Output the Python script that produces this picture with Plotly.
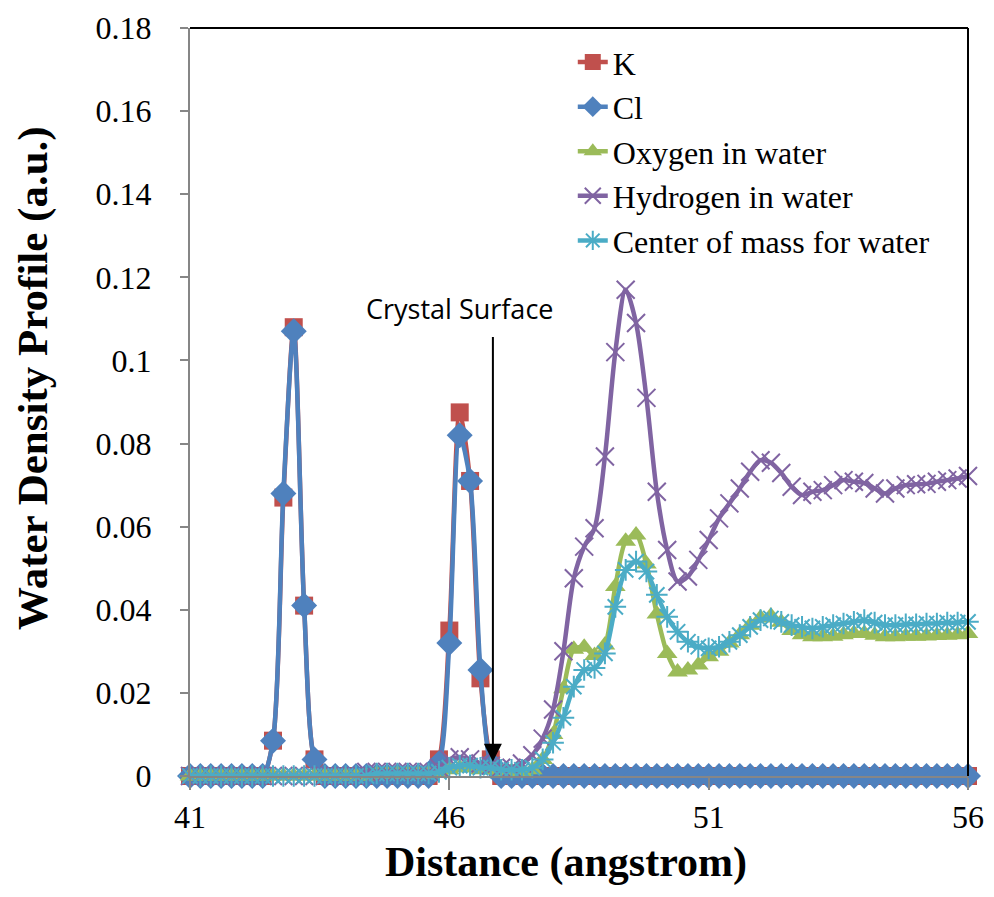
import plotly.graph_objects as go

# Distance grid (angstrom), 0.2 step from 41.0 to 56.0
distance = [41.0, 41.2, 41.4, 41.6, 41.8, 42.0, 42.2, 42.4, 42.6, 42.8,
            43.0, 43.2, 43.4, 43.6, 43.8, 44.0, 44.2, 44.4, 44.6, 44.8,
            45.0, 45.2, 45.4, 45.6, 45.8, 46.0, 46.2, 46.4, 46.6, 46.8,
            47.0, 47.2, 47.4, 47.6, 47.8, 48.0, 48.2, 48.4, 48.6, 48.8,
            49.0, 49.2, 49.4, 49.6, 49.8, 50.0, 50.2, 50.4, 50.6, 50.8,
            51.0, 51.2, 51.4, 51.6, 51.8, 52.0, 52.2, 52.4, 52.6, 52.8,
            53.0, 53.2, 53.4, 53.6, 53.8, 54.0, 54.2, 54.4, 54.6, 54.8,
            55.0, 55.2, 55.4, 55.6, 55.8, 56.0]

k_vals = [0, 0, 0, 0, 0, 0, 0, 0, 0.0085, 0.067,
          0.108, 0.041, 0.004, 0, 0, 0, 0, 0, 0, 0,
          0, 0, 0, 0, 0.004, 0.035, 0.0875, 0.071, 0.0235, 0.004,
          0, 0, 0, 0, 0, 0, 0, 0, 0, 0,
          0, 0, 0, 0, 0, 0, 0, 0, 0, 0,
          0, 0, 0, 0, 0, 0, 0, 0, 0, 0,
          0, 0, 0, 0, 0, 0, 0, 0, 0, 0,
          0, 0, 0, 0, 0, 0]

cl_vals = [0, 0, 0, 0, 0, 0, 0, 0, 0.0085, 0.068,
           0.107, 0.041, 0.004, 0, 0, 0, 0, 0, 0, 0,
           0, 0, 0, 0, 0.003, 0.032, 0.082, 0.071, 0.0255, 0.003,
           0, 0, 0, 0, 0, 0, 0, 0, 0, 0,
           0, 0, 0, 0, 0, 0, 0, 0, 0, 0,
           0, 0, 0, 0, 0, 0, 0, 0, 0, 0,
           0, 0, 0, 0, 0, 0, 0, 0, 0, 0,
           0, 0, 0, 0, 0, 0]

oxygen_vals = [0, 0, 0, 0, 0, 0, 0, 0, 0, 0,
               0, 0, 0, 0, 0, 0, 0, 0, 0.0005, 0.0005,
               0.0005, 0.0005, 0.0005, 0.0005, 0.001, 0.0015, 0.002, 0.002, 0.0015, 0.0015,
               0.001, 0.001, 0.001, 0.0015, 0.004, 0.010, 0.021, 0.0305, 0.031, 0.029,
               0.0315, 0.0456, 0.0565, 0.058, 0.051, 0.039, 0.0295, 0.025, 0.0255, 0.0267,
               0.0287, 0.030, 0.032, 0.034, 0.0363, 0.038, 0.0385, 0.037, 0.035, 0.034,
               0.0335, 0.0335, 0.0336, 0.034, 0.0343, 0.0343, 0.0339, 0.0335, 0.0335, 0.0336,
               0.0336, 0.0337, 0.0338, 0.0339, 0.034, 0.0343]

hydrogen_vals = [0, 0, 0, 0, 0, 0, 0, 0, 0, 0,
                 0, 0, 0, 0, 0, 0, 0, 0.001, 0.001, 0.001,
                 0.001, 0.001, 0.001, 0.001, 0.002, 0.004, 0.0045, 0.004, 0.003, 0.0025,
                 0.002, 0.002, 0.003, 0.005, 0.009, 0.016, 0.030, 0.0476, 0.0552, 0.0596,
                 0.0769, 0.102, 0.117, 0.109, 0.091, 0.0684, 0.0544, 0.0468, 0.048, 0.052,
                 0.0568, 0.062, 0.0656, 0.0692, 0.0732, 0.076, 0.0754, 0.0729, 0.0696, 0.0676,
                 0.0684, 0.0688, 0.070, 0.0712, 0.0708, 0.0705, 0.0692, 0.068, 0.0692, 0.070,
                 0.0702, 0.0703, 0.0708, 0.0712, 0.0716, 0.0722]

com_vals = [0, 0, 0, 0, 0, 0, 0, 0, 0, 0,
            0, 0, 0, 0, 0, 0, 0, 0, 0.0006, 0.0006,
            0.0006, 0.0006, 0.0006, 0.0006, 0.001, 0.002, 0.0025, 0.0025, 0.002, 0.002,
            0.0015, 0.0015, 0.0015, 0.002, 0.004, 0.008, 0.014, 0.0215, 0.0255, 0.026,
            0.0295, 0.0407, 0.0496, 0.0516, 0.0492, 0.0436, 0.0383, 0.0347, 0.0323, 0.0311,
            0.0307, 0.0311, 0.0323, 0.0339, 0.0359, 0.0375, 0.0379, 0.0371, 0.0363, 0.0359,
            0.0355, 0.0359, 0.0363, 0.0367, 0.0371, 0.0375, 0.0369, 0.0363, 0.0363, 0.0365,
            0.0365, 0.0367, 0.0367, 0.0369, 0.0369, 0.0371]

series_names = ["K", "Cl", "Oxygen in water", "Hydrogen in water", "Center of mass for water"]
series_values = [k_vals, cl_vals, oxygen_vals, hydrogen_vals, com_vals]
colors = ["#C0504D", "#4F81BD", "#9BBB59", "#8064A2", "#4BACC6"]
symbols = ["square", "diamond", "triangle-up", "x-thin-open", "asterisk-open"]
sizes = [18, 20, 18, 18, 18]

x_ticks = [41, 46, 51, 56]
y_ticks = [0, 0.02, 0.04, 0.06, 0.08, 0.1, 0.12, 0.14, 0.16, 0.18]

fig = go.Figure()
for i, (name, vals) in enumerate(zip(series_names, series_values)):
    open_sym = symbols[i].endswith("open")
    fig.add_trace(go.Scatter(
        x=distance, y=vals, name=name, mode="lines+markers",
        line=dict(color=colors[i], width=4.5, shape="spline", smoothing=0.8),
        marker=dict(symbol=symbols[i], size=sizes[i], color=colors[i],
                    line=dict(color=colors[i], width=2 if open_sym else 0)),
        cliponaxis=False, legendgroup=name,
    ))

serif = "Liberation Serif, Times New Roman, serif"

fig.update_layout(
    width=994, height=897,
    margin=dict(l=190, r=26, t=28, b=121, autoexpand=False),
    plot_bgcolor="white", paper_bgcolor="white",
    font=dict(family=serif, color="black", size=28),
    showlegend=True,
    legend=dict(x=0.492, y=0.991, xanchor="left", yanchor="top",
                font=dict(family=serif, size=32, color="black"),
                bgcolor="rgba(0,0,0,0)", traceorder="grouped", tracegroupgap=0),
    xaxis=dict(range=[41, 56], tickvals=x_ticks, showgrid=False, zeroline=False,
               showline=True, linecolor="#868686", linewidth=2, automargin=False,
               ticks="outside", ticklen=12, tickwidth=2, tickcolor="#868686",
               tickfont=dict(family=serif, size=32, color="black")),
    yaxis=dict(range=[0, 0.18], tickvals=y_ticks, showgrid=False, zeroline=False,
               showline=True, linecolor="#868686", linewidth=2, automargin=False,
               ticks="outside", ticklen=8, tickwidth=2, tickcolor="#868686",
               ticklabelstandoff=22,
               tickfont=dict(family=serif, size=32, color="black")),
    shapes=[
        dict(type="line", xref="x domain", yref="y domain", x0=0, x1=1, y0=1, y1=1,
             line=dict(color="black", width=2)),
        dict(type="line", xref="x domain", yref="y domain", x0=1, x1=1, y0=0, y1=1,
             line=dict(color="black", width=2)),
    ],
    annotations=[
        dict(text="<b>Water Density Profile (a.u.)</b>", xref="paper", yref="paper",
             x=-0.202, y=0.532, xanchor="center", yanchor="middle", textangle=-90,
             showarrow=False, font=dict(family=serif, size=43, color="black")),
        dict(text="<b>Distance (angstrom)</b>", xref="paper", yref="paper",
             x=0.483, y=-0.115, xanchor="center", yanchor="middle",
             showarrow=False, font=dict(family=serif, size=42, color="black")),
        dict(text="Crystal Surface", xref="x", yref="y", x=46.2, y=0.1126,
             xanchor="center", yanchor="middle", showarrow=False,
             font=dict(family="Open Sans, Noto Sans, sans-serif", size=27, color="black")),
        dict(text="", xref="x", yref="y", x=46.84, y=0.0034,
             axref="x", ayref="y", ax=46.84, ay=0.106,
             showarrow=True, arrowhead=2, arrowsize=1.8, arrowwidth=2, arrowcolor="black"),
    ],
)

fig.write_html("out.html")
